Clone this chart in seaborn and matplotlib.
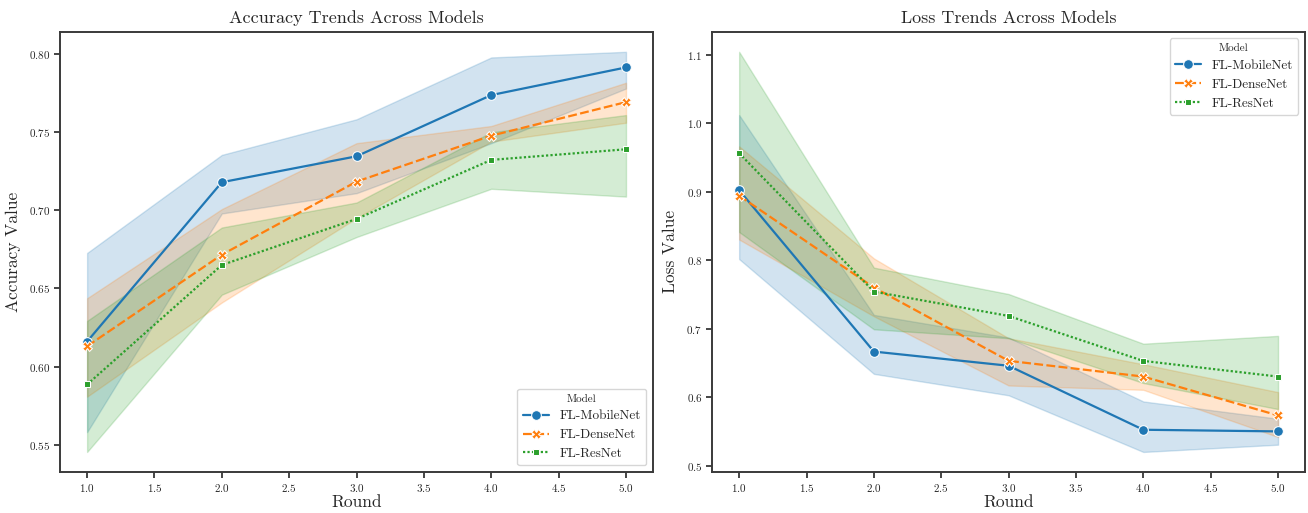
import pandas as pd
import numpy as np
import seaborn as sns
import matplotlib.pyplot as plt

# values
rounds = [1, 2, 3, 4, 5]
models = ['FL-MobileNet', 'FL-DenseNet', 'FL-ResNet']

acc_mean = {
    'FL-MobileNet': [0.616, 0.718, 0.7346, 0.7738, 0.7915],
    'FL-DenseNet':  [0.613, 0.6716, 0.7184, 0.7478, 0.7693],
    'FL-ResNet':    [0.5885, 0.665, 0.6945, 0.7323, 0.7391],
}
acc_lo = {
    'FL-MobileNet': [0.558, 0.698, 0.711, 0.743, 0.778],
    'FL-DenseNet':  [0.5807, 0.641, 0.695, 0.744, 0.7561],
    'FL-ResNet':    [0.5453, 0.646, 0.6829, 0.7138, 0.7088],
}
acc_hi = {
    'FL-MobileNet': [0.6727, 0.7355, 0.7583, 0.7979, 0.8015],
    'FL-DenseNet':  [0.6437, 0.7008, 0.743, 0.754, 0.7817],
    'FL-ResNet':    [0.6292, 0.689, 0.705, 0.750, 0.761],
}

loss_mean = {
    'FL-MobileNet': [0.902, 0.6665, 0.6458, 0.5524, 0.550],
    'FL-DenseNet':  [0.894, 0.760, 0.653, 0.630, 0.5733],
    'FL-ResNet':    [0.956, 0.754, 0.7185, 0.6529, 0.630],
}
loss_lo = {
    'FL-MobileNet': [0.8015, 0.634, 0.6027, 0.520, 0.5306],
    'FL-DenseNet':  [0.830, 0.718, 0.617, 0.6107, 0.5418],
    'FL-ResNet':    [0.841, 0.699, 0.686, 0.6206, 0.5826],
}
loss_hi = {
    'FL-MobileNet': [1.0117, 0.720, 0.687, 0.5937, 0.5685],
    'FL-DenseNet':  [0.966, 0.8025, 0.686, 0.648, 0.6073],
    'FL-ResNet':    [1.104, 0.789, 0.7505, 0.678, 0.6894],
}


def to_frame(mean, lo, hi):
    rows = []
    for m in models:
        for i, r in enumerate(rounds):
            rows.append({'Round': r, 'Model': m, 'Value': mean[m][i],
                         'lo': lo[m][i], 'hi': hi[m][i]})
    return pd.DataFrame(rows)


acc_df = to_frame(acc_mean, acc_lo, acc_hi)
loss_df = to_frame(loss_mean, loss_lo, loss_hi)

sns.set_theme(style='ticks')
plt.rcParams['font.family'] = 'serif'
plt.rcParams['font.serif'] = ['cmr10', 'DejaVu Serif']
plt.rcParams['mathtext.fontset'] = 'cm'
plt.rcParams['axes.formatter.use_mathtext'] = True
plt.rcParams['axes.unicode_minus'] = False

palette = sns.color_palette('tab10', 3)

fig, axs = plt.subplots(1, 2, figsize=(13.08, 5.13), dpi=100)
fig.subplots_adjust(left=0.046, right=0.9977, bottom=0.08, top=0.938, wspace=0.1)

panels = [
    (axs[0], acc_df, 'Accuracy Trends Across Models', 'Accuracy Value', 'lower right'),
    (axs[1], loss_df, 'Loss Trends Across Models', 'Loss Value', 'upper right'),
]

for ax, df, title, ylabel, loc in panels:
    sns.lineplot(data=df, x='Round', y='Value', hue='Model', style='Model',
                 hue_order=models, style_order=models, palette=palette,
                 markers=['o', 'X', 's'], dashes=True, errorbar=None,
                 markersize=7, linewidth=1.6, ax=ax)
    for i, m in enumerate(models):
        sub = df[df['Model'] == m]
        ax.fill_between(sub['Round'], sub['lo'], sub['hi'], color=palette[i], alpha=0.2)
    # squares look heavier than circles at equal size
    for ln in ax.lines:
        if ln.get_marker() == 's':
            ln.set_markersize(5)
    ax.set_title(title, fontsize=13, pad=6)
    ax.set_xlabel('Round', fontsize=12.5, labelpad=1)
    ax.set_ylabel(ylabel, fontsize=12.5, labelpad=6)
    ax.tick_params(labelsize=8, length=4, width=1.2, pad=3)
    for s in ax.spines.values():
        s.set_linewidth(1.4)
        s.set_color('#3a3a3a')
    leg = ax.legend(title='Model', loc=loc, fontsize=9.5, title_fontsize=8)
    for ln in leg.get_lines():
        if ln.get_marker() == 's':
            ln.set_markersize(5)

fig.savefig('out.png', dpi=100)
